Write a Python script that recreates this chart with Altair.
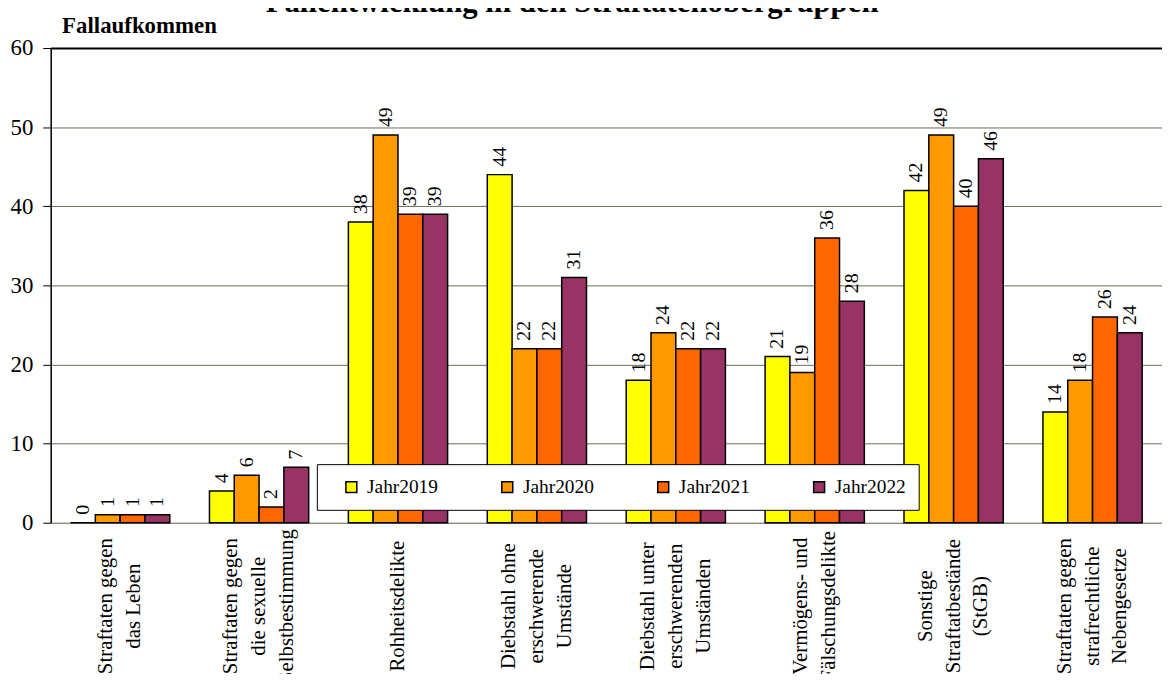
import altair as alt
import pandas as pd

title_text = "Fallentwicklung in den Straftatenobergruppen"
categories = [
    "Straftaten gegen|das Leben",
    "Straftaten gegen|die sexuelle|Selbstbestimmung",
    "Rohheitsdelikte",
    "Diebstahl ohne|erschwerende|Umstände",
    "Diebstahl unter|erschwerenden|Umständen",
    "Vermögens- und|Fälschungsdelikte",
    "Sonstige|Straftatbestände|(StGB)",
    "Straftaten gegen|strafrechtliche|Nebengesetze",
]
years = ["Jahr2019", "Jahr2020", "Jahr2021", "Jahr2022"]
v2019 = [0, 4, 38, 44, 18, 21, 42, 14]
v2020 = [1, 6, 49, 22, 24, 19, 49, 18]
v2021 = [1, 2, 39, 22, 22, 36, 40, 26]
v2022 = [1, 7, 39, 31, 22, 28, 46, 24]
colors = ["#FFFF00", "#FF9900", "#FF6600", "#993366"]

rows = []
for y, vals in zip(years, [v2019, v2020, v2021, v2022]):
    for c, v in zip(categories, vals):
        rows.append({"cat": c, "year": y, "value": v})
df = pd.DataFrame(rows)
cat_df = pd.DataFrame({"cat": categories})
title_df = pd.DataFrame({"t": [title_text]})

SERIF = "Liberation Serif"
LH = 28

x_scale = alt.Scale(paddingInner=0, paddingOuter=0)
x_enc = alt.X(
    "cat:N",
    sort=categories,
    scale=x_scale,
    axis=alt.Axis(
        title=None,
        labels=False,
        tickBand="extent",
        tickSize=6,
        tickColor="black",
        domainColor="black",
        domainWidth=1.5,
        grid=False,
    ),
)
xo = alt.XOffset("year:N", sort=years, scale=alt.Scale(paddingInner=0, paddingOuter=0.8))

bars = alt.Chart(df).mark_bar(stroke="black", strokeWidth=1.5).encode(
    x=x_enc,
    xOffset=xo,
    y=alt.Y(
        "value:Q",
        scale=alt.Scale(domain=[0, 60], nice=False),
        axis=alt.Axis(
            values=[0, 10, 20, 30, 40, 50, 60],
            title="Fallaufkommen",
            titleAngle=0,
            titleAlign="left",
            titleBaseline="alphabetic",
            titleX=11,
            titleY=-16,
            titleFont=SERIF,
            titleFontSize=23,
            titleFontWeight="bold",
            titleColor="black",
            labelFont=SERIF,
            labelFontSize=23,
            labelColor="black",
            labelPadding=10,
            tickSize=8,
            tickColor="black",
            domainColor="black",
            domainWidth=1.5,
            grid=True,
            gridColor={"condition": {"test": "datum.value === 60", "value": "black"}, "value": "#6b6b55"},
            gridWidth={"condition": {"test": "datum.value === 60", "value": 2}, "value": 1},
        ),
    ),
    color=alt.Color(
        "year:N",
        sort=years,
        scale=alt.Scale(domain=years, range=colors),
        legend=alt.Legend(
            title=None,
            orient="none",
            legendX=268,
            legendY=419,
            direction="horizontal",
            fillColor="white",
            strokeColor="black",
            padding=13,
            columnPadding=48,
            symbolOffset=12,
            symbolType="square",
            symbolSize=121,
            symbolStrokeColor="black",
            symbolStrokeWidth=1.5,
            symbolOpacity=1,
            labelFont=SERIF,
            labelFontSize=19.5,
            labelColor="black",
            labelOffset=6,
        ),
    ),
)

values_text = alt.Chart(df).mark_text(
    angle=270, align="left", baseline="middle", dx=8,
    font=SERIF, fontSize=20, color="black",
).encode(
    x=alt.X("cat:N", sort=categories, scale=x_scale, axis=None),
    xOffset=xo,
    y="value:Q",
    text="value:Q",
)

cat_labels = alt.Chart(cat_df).transform_calculate(
    lines="split(datum.cat, '|')",
    n="length(split(datum.cat, '|'))",
).transform_flatten(
    ["lines"], as_=["line"]
).transform_window(
    idx="row_number()", groupby=["cat"]
).transform_calculate(
    off=f"(datum.idx - 1 - (datum.n - 1) / 2) * {LH}"
).mark_text(
    angle=270, align="center", baseline="middle",
    dy=alt.expr("datum.off"),
    font=SERIF, fontSize=21, color="black",
).encode(
    x=alt.X("cat:N", sort=categories, scale=x_scale, axis=None),
    y=alt.value(562),
    text="line:N",
)

title = alt.Chart(title_df).mark_text(
    align="center", baseline="alphabetic",
    font=SERIF, fontSize=31, fontWeight="bold", color="black",
).encode(
    x=alt.value(525),
    y=alt.value(-36),
    text="t:N",
)

chart = alt.layer(bars, values_text, cat_labels, title).properties(
    width=1119,
    height=478,
    autosize=alt.AutoSizeParams(type="none"),
    padding={"left": 43, "top": 38, "right": 0, "bottom": 150},
).configure_view(fill="#FFFFCC", stroke=None).configure(background="white")

chart.save("out.html", embed_options={"renderer": "svg", "actions": False})
